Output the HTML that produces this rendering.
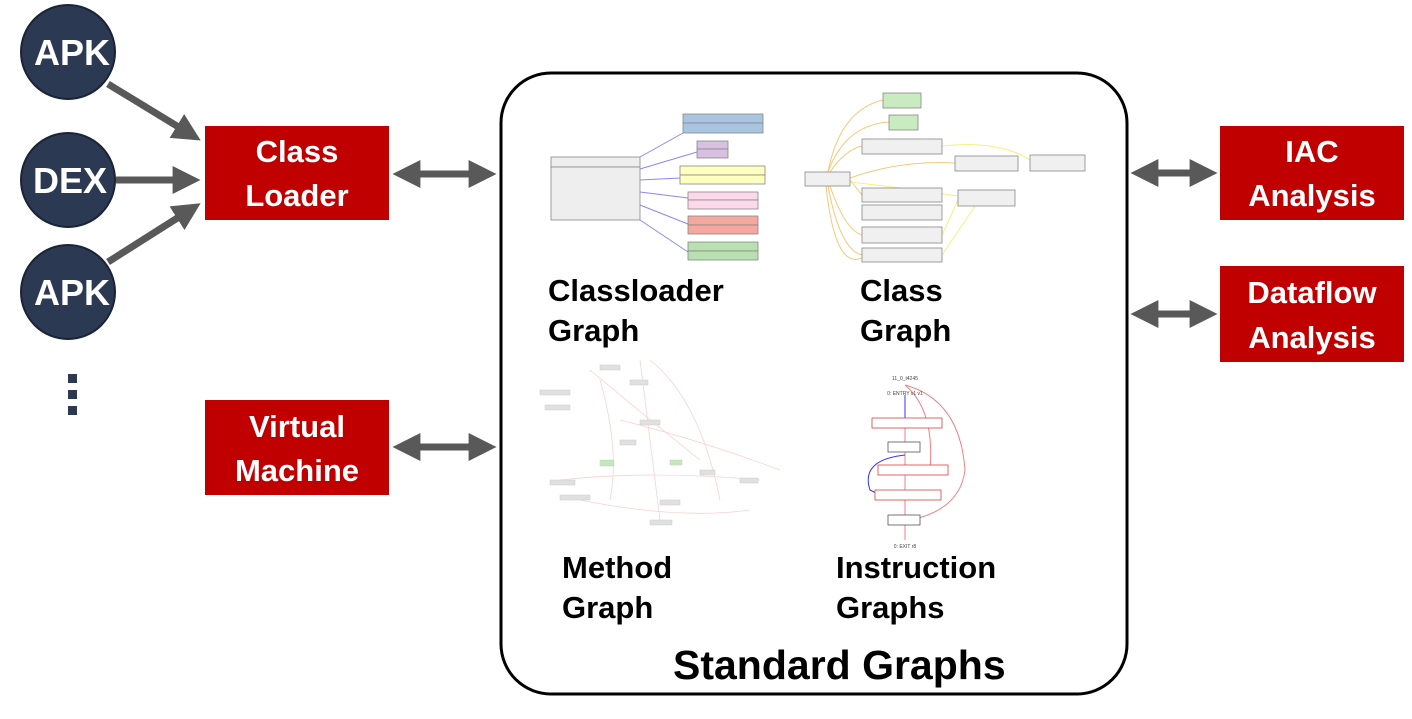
<!DOCTYPE html>
<html><head><meta charset="utf-8"><style>
body{margin:0;background:#fff;width:1412px;height:714px;overflow:hidden;font-family:"Liberation Sans",sans-serif}
</style></head><body>
<svg width="1412" height="714" viewBox="0 0 1412 714" xmlns="http://www.w3.org/2000/svg" font-family="Liberation Sans, sans-serif">
<defs>
<marker id="ah" markerWidth="4" markerHeight="4" refX="2.2" refY="2" orient="auto" markerUnits="strokeWidth"><path d="M0,0 L4,2 L0,4 z" fill="#595959"/></marker>
<marker id="ahs" markerWidth="4" markerHeight="4" refX="2.2" refY="2" orient="auto-start-reverse" markerUnits="strokeWidth"><path d="M0,0 L4,2 L0,4 z" fill="#595959"/></marker>
</defs>
<g fill="#2b3a52" stroke="#1a2436" stroke-width="2">
<circle cx="68" cy="52" r="47"/><circle cx="68" cy="180" r="47"/><circle cx="68" cy="292" r="47"/>
</g>
<g fill="#fff" font-weight="bold" font-size="36" text-anchor="middle">
<text x="72" y="65">APK</text><text x="70" y="193">DEX</text><text x="72" y="305">APK</text>
</g>
<g fill="#2b3a52"><rect x="68" y="374" width="9" height="9"/><rect x="68" y="390" width="9" height="9"/><rect x="68" y="406" width="9" height="9"/></g>
<g stroke="#595959" stroke-width="7" fill="none">
<line x1="108" y1="84" x2="190" y2="134" marker-end="url(#ah)"/>
<line x1="116" y1="180" x2="188" y2="180" marker-end="url(#ah)"/>
<line x1="108" y1="262" x2="190" y2="210" marker-end="url(#ah)"/>
<line x1="405" y1="174" x2="484" y2="174" marker-start="url(#ahs)" marker-end="url(#ah)"/>
<line x1="405" y1="447" x2="484" y2="447" marker-start="url(#ahs)" marker-end="url(#ah)"/>
<line x1="1143" y1="173" x2="1205" y2="173" marker-start="url(#ahs)" marker-end="url(#ah)"/>
<line x1="1143" y1="314" x2="1205" y2="314" marker-start="url(#ahs)" marker-end="url(#ah)"/>
</g>
<g fill="#c00000"><rect x="205" y="126" width="184" height="94"/><rect x="205" y="400" width="184" height="95"/><rect x="1220" y="126" width="184" height="94"/><rect x="1220" y="266" width="184" height="96"/></g>
<g fill="#fff" font-weight="bold" font-size="31" text-anchor="middle">
<text x="297" y="162">Class</text><text x="297" y="206">Loader</text>
<text x="297" y="437">Virtual</text><text x="297" y="481">Machine</text>
<text x="1312" y="162">IAC</text><text x="1312" y="206">Analysis</text>
<text x="1312" y="303">Dataflow</text><text x="1312" y="348">Analysis</text>
</g>
<rect x="501" y="73" width="626" height="621" rx="50" fill="none" stroke="#000" stroke-width="3"/>
<g font-weight="bold" font-size="31" fill="#000">
<text x="548" y="301">Classloader</text><text x="548" y="341">Graph</text>
<text x="860" y="301">Class</text><text x="860" y="341">Graph</text>
<text x="562" y="578">Method</text><text x="562" y="618">Graph</text>
<text x="836" y="578">Instruction</text><text x="836" y="618">Graphs</text>
<text x="673" y="679" font-size="41">Standard Graphs</text>
</g>
<g stroke="#8888ff" stroke-width="1" fill="none">
<path d="M683,133 L640,157"/><path d="M697,152 L640,169"/><path d="M680,178 L640,180"/><path d="M688,198 L640,192"/><path d="M688,224 L640,205"/><path d="M688,252 L640,220"/>
</g>
<g stroke="#888" stroke-width="0.8">
<rect x="551" y="157" width="89" height="10" fill="#eee"/><rect x="551" y="167" width="89" height="53" fill="#eee"/>
<rect x="683" y="114" width="80" height="9" fill="#a9c4e0"/><rect x="683" y="123" width="80" height="10" fill="#a9c4e0"/>
<rect x="697" y="141" width="31" height="8" fill="#d8c0e0"/><rect x="697" y="149" width="31" height="9" fill="#d8c0e0"/>
<rect x="680" y="166" width="85" height="9" fill="#ffffc0"/><rect x="680" y="175" width="85" height="9" fill="#ffffc0"/>
<rect x="688" y="192" width="70" height="8" fill="#fcd8e8"/><rect x="688" y="200" width="70" height="9" fill="#fcd8e8"/>
<rect x="688" y="216" width="70" height="9" fill="#f4a8a0"/><rect x="688" y="225" width="70" height="9" fill="#f4a8a0"/>
<rect x="688" y="242" width="70" height="9" fill="#b8e0b0"/><rect x="688" y="251" width="70" height="9" fill="#b8e0b0"/>
</g>
<g stroke="#f7c878" stroke-width="1" fill="none">
<path d="M828,172 Q840,110 883,100"/><path d="M828,172 Q845,125 889,122"/><path d="M830,172 Q845,150 862,146"/><path d="M850,178 Q900,160 955,163"/><path d="M850,180 L862,195"/>
<path d="M830,186 Q845,230 862,235"/><path d="M828,186 Q840,250 862,255"/><path d="M826,186 Q835,270 862,258"/>
</g>
<g stroke="#f5f080" stroke-width="1" fill="none"><path d="M1030,160 Q1000,140 942,146"/><path d="M958,196 Q920,190 850,182"/><path d="M958,200 L942,235"/><path d="M975,206 L942,255"/></g>
<g stroke="#888" stroke-width="0.8" fill="#f0f0f0">
<rect x="805" y="172" width="45" height="14"/><rect x="883" y="93" width="38" height="15" fill="#c8ecc0"/><rect x="889" y="115" width="29" height="15" fill="#c8ecc0"/>
<rect x="862" y="139" width="80" height="15"/><rect x="862" y="188" width="80" height="14"/><rect x="862" y="205" width="80" height="15"/><rect x="862" y="227" width="80" height="16"/><rect x="862" y="248" width="80" height="14"/>
<rect x="955" y="156" width="63" height="15"/><rect x="1030" y="155" width="55" height="16"/><rect x="958" y="190" width="57" height="16"/>
</g>
<g stroke="#f4c8c8" stroke-width="0.8" fill="none" opacity="0.8">
<path d="M590,370 Q650,420 700,460"/><path d="M600,380 Q620,450 610,500"/><path d="M640,360 L660,520"/><path d="M560,480 Q650,470 760,480"/><path d="M580,500 Q680,520 750,510"/><path d="M650,360 Q700,400 720,500"/><path d="M620,420 Q700,440 780,470"/>
</g>
<g fill="#e0e0e0" stroke="#ccc" stroke-width="0.5">
<rect x="540" y="390" width="30" height="5"/><rect x="545" y="405" width="25" height="5"/><rect x="600" y="365" width="20" height="5"/><rect x="630" y="380" width="18" height="5"/><rect x="640" y="420" width="20" height="5"/><rect x="600" y="460" width="14" height="6" fill="#c0e8b8"/><rect x="550" y="480" width="25" height="5"/><rect x="560" y="495" width="30" height="5"/><rect x="700" y="470" width="15" height="5"/><rect x="740" y="478" width="18" height="5"/><rect x="660" y="500" width="20" height="5"/><rect x="650" y="520" width="22" height="5"/><rect x="620" y="440" width="16" height="5"/><rect x="670" y="460" width="12" height="5" fill="#c0e8b8"/>
</g>
<g stroke="#f08080" stroke-width="1" fill="none">
<path d="M905,385 Q960,400 965,470 Q960,510 910,520"/><path d="M905,385 Q935,410 930,470"/><path d="M905,400 L905,540"/>
</g>
<g stroke="#3333ff" stroke-width="1" fill="none"><path d="M905,395 L905,420"/><path d="M905,455 Q860,460 870,490 L880,495"/></g>
<g stroke="#e04040" stroke-width="0.8" fill="#fff">
<rect x="872" y="418" width="70" height="10"/><rect x="878" y="465" width="70" height="10"/><rect x="875" y="490" width="66" height="10"/>
</g>
<g stroke="#555" stroke-width="0.8" fill="#fff">
<rect x="888" y="442" width="32" height="10"/><rect x="888" y="515" width="32" height="10"/>
</g>
<g font-size="5" fill="#444" text-anchor="middle"><text x="905" y="380">11_0_t4245</text><text x="905" y="395">0: ENTRY v1 v1</text><text x="905" y="548">0: EXIT r8</text></g>
</svg>
</body></html>
